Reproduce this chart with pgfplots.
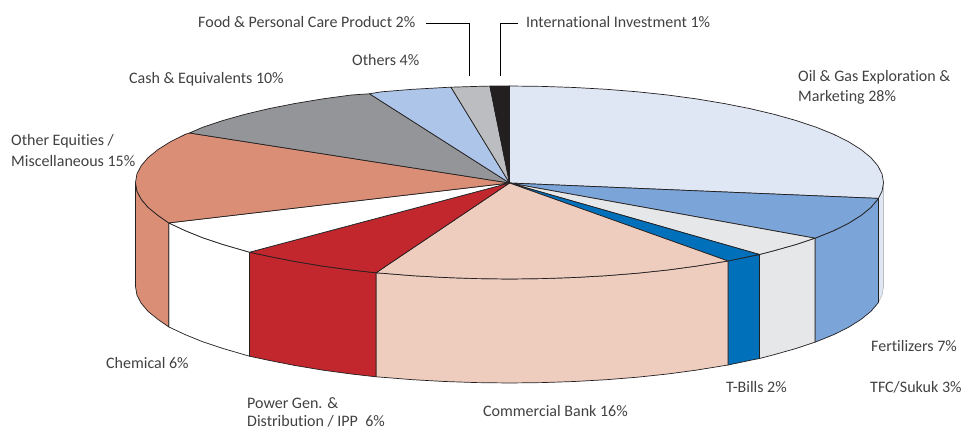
\documentclass[border=0pt]{standalone}
\usepackage{pgfplots}
\pgfplotsset{compat=1.18}
\usepackage{fontspec}
\setmainfont[Ligatures=NoCommon]{Carlito}

\definecolor{edge}{HTML}{231F20}
\definecolor{labeltxt}{HTML}{414042}
\definecolor{oil}{HTML}{E0E7F4}
\definecolor{fert}{HTML}{7BA4D8}
\definecolor{tfc}{HTML}{E6E7E8}
\definecolor{tbill}{HTML}{0070BB}
\definecolor{bank}{HTML}{EECDBF}
\definecolor{power}{HTML}{C1272D}
\definecolor{equity}{HTML}{DA8E75}
\definecolor{cash}{HTML}{939598}
\definecolor{others}{HTML}{ACC5E8}
\definecolor{food}{HTML}{BBBDC0}
\definecolor{intl}{HTML}{231F20}

\tikzset{
    slice/.style={draw=edge, line width=0.7pt, line join=round},
    lab/.style={anchor=west, inner sep=0pt, text=labeltxt, font=\fontsize{16}{19}\selectfont, text height=11pt, text depth=1pt},
}

\begin{document}
\begin{tikzpicture}
\useasboundingbox (0,0) rectangle (961pt,430pt);
\begin{axis}[
    at={(0,0)}, anchor=south west,
    scale only axis, width=961pt, height=430pt,
    xmin=0, xmax=961, ymin=0, ymax=430,
    y dir=reverse,
    hide axis, clip=false,
]
% side walls
\addplot[slice, draw=food, fill=oil] coordinates {(883.5,182.5)(882.1,190.9)(878.4,198.4)(878.4,302.4)(882.1,294.9)(883.5,286.5)} --cycle;
\addplot[slice, fill=fert] coordinates {(878.4,198.4)(877.8,199.3)(870.8,207.5)(860.9,215.5)(848.5,223.3)(833.4,230.8)(815,238.2)
    (815,342.2)(833.4,334.8)(848.5,327.3)(860.9,319.5)(870.8,311.5)(877.8,303.3)(878.4,302.4)} --cycle;
\addplot[slice, fill=tfc] coordinates {(815,238.2)(796,244.5)(774,250.7)(759.5,254.5)
    (759.5,358.5)(774,354.7)(796,348.5)(815,342.2)} --cycle;
\addplot[slice, fill=tbill] coordinates {(759.5,254.5)(749.9,256.4)(728,261)
    (728,365)(749.9,360.4)(759.5,358.5)} --cycle;
\addplot[slice, fill=bank] coordinates {(728,261)(696.5,266.1)(667.6,270)(637.4,273.2)(606.3,275.7)(574.4,277.5)(542.1,278.6)(509.5,279)(476.9,278.6)(444.6,277.5)(412.7,275.7)(381.6,273.2)(376,272.8)
    (376,376.8)(381.6,377.2)(412.7,379.7)(444.6,381.5)(476.9,382.6)(509.5,383)(542.1,382.6)(574.4,381.5)(606.3,379.7)(637.4,377.2)(667.6,374)(696.5,370.1)(728,365)} --cycle;
\addplot[slice, fill=power] coordinates {(376,272.8)(351.4,270)(322.5,266.1)(295,261.5)(269.1,256.4)(249.5,252.2)
    (249.5,356.2)(269.1,360.4)(295,365.5)(322.5,370.1)(351.4,374)(376,376.8)} --cycle;
\addplot[slice, fill=white] coordinates {(249.5,252.2)(223,244.5)(203.1,237.9)(185.6,230.8)(168.7,222.9)
    (168.7,326.9)(185.6,334.8)(203.1,341.9)(223,348.5)(249.5,356.2)} --cycle;
\addplot[slice, fill=equity] coordinates {(168.7,222.9)(158.1,215.5)(148.2,207.5)(141.2,199.3)(136.9,190.9)(135.5,182.5)
    (135.5,286.5)(136.9,294.9)(141.2,303.3)(148.2,311.5)(158.1,319.5)(168.7,326.9)} --cycle;

% top face
\addplot[slice, fill=oil] coordinates {(509.5,183)(509.5,86)(542.1,86.4)(574.4,87.5)(606.3,89.3)(637.4,91.8)(667.6,95)(696.5,98.9)(724,103.5)(749.9,108.6)(774,114.3)(796,120.5)(815.9,127.1)(833.4,134.2)(848.5,141.7)(860.9,149.5)(870.8,157.5)(877.8,165.7)(882.1,174.1)(883.5,182.5)(882.1,190.9)(878.4,198.4)} --cycle;
\addplot[slice, fill=fert] coordinates {(509.5,183)(878.4,198.4)(877.8,199.3)(870.8,207.5)(860.9,215.5)(848.5,223.3)(833.4,230.8)(815,238.2)} --cycle;
\addplot[slice, fill=tfc] coordinates {(509.5,183)(815,238.2)(796,244.5)(774,250.7)(759.5,254.5)} --cycle;
\addplot[slice, fill=tbill] coordinates {(509.5,183)(759.5,254.5)(749.9,256.4)(728,261)} --cycle;
\addplot[slice, fill=bank] coordinates {(509.5,183)(728,261)(696.5,266.1)(667.6,270)(637.4,273.2)(606.3,275.7)(574.4,277.5)(542.1,278.6)(509.5,279)(476.9,278.6)(444.6,277.5)(412.7,275.7)(381.6,273.2)(376,272.8)} --cycle;
\addplot[slice, fill=power] coordinates {(509.5,183)(376,272.8)(351.4,270)(322.5,266.1)(295,261.5)(269.1,256.4)(249.5,252.2)} --cycle;
\addplot[slice, fill=white] coordinates {(509.5,183)(249.5,252.2)(223,244.5)(203.1,237.9)(185.6,230.8)(168.7,222.9)} --cycle;
\addplot[slice, fill=equity] coordinates {(509.5,183)(168.7,222.9)(158.1,215.5)(148.2,207.5)(141.2,199.3)(136.9,190.9)(135.5,182.5)(136.9,174.1)(141.2,165.7)(148.2,157.5)(158.1,149.5)(170.5,141.7)(185.6,134.2)(189.5,133)} --cycle;
\addplot[slice, fill=cash] coordinates {(509.5,183)(189.5,133)(203.1,127.1)(223,120.5)(245,114.3)(269.1,108.6)(295,103.5)(322.5,98.9)(351.4,95)(369.5,93.8)} --cycle;
\addplot[slice, fill=others] coordinates {(509.5,183)(369.5,93.8)(381.6,91.8)(412.7,89.3)(444.6,87.5)(451,87.2)} --cycle;
\addplot[slice, fill=food] coordinates {(509.5,183)(451,87.2)(476.9,86.4)(489.9,86.1)} --cycle;
\addplot[slice, fill=intl] coordinates {(509.5,183)(489.9,86.1)(509.5,86)} --cycle;

% leader lines
\addplot[black, line width=0.9pt] coordinates {(426,23.5)(469,23.5)(469,76)};
\addplot[black, line width=0.9pt] coordinates {(518,23.5)(500,23.5)(500,76)};

% labels
\node[lab] at (axis cs:198,23) {Food \& Personal Care Product 2\%};
\node[lab] at (axis cs:526,23) {International Investment 1\%};
\node[lab] at (axis cs:352,61) {Others 4\%};
\node[lab] at (axis cs:129,79) {Cash \& Equivalents 10\%};
\node[lab] at (axis cs:798,77) {Oil \& Gas Exploration \&};
\node[lab] at (axis cs:798,97) {Marketing 28\%};
\node[lab] at (axis cs:11,141) {Other Equities /};
\node[lab] at (axis cs:11,162) {Miscellaneous 15\%};
\node[lab] at (axis cs:106,363) {Chemical 6\%};
\node[lab] at (axis cs:247,403) {Power Gen. \&};
\node[lab] at (axis cs:247,421.5) {Distribution / IPP~~6\%};
\node[lab] at (axis cs:483,411) {Commercial Bank 16\%};
\node[lab] at (axis cs:726,387) {T-Bills 2\%};
\node[lab] at (axis cs:871,347) {Fertilizers 7\%};
\node[lab] at (axis cs:870,387) {TFC/Sukuk 3\%};
\end{axis}
\end{tikzpicture}
\end{document}
